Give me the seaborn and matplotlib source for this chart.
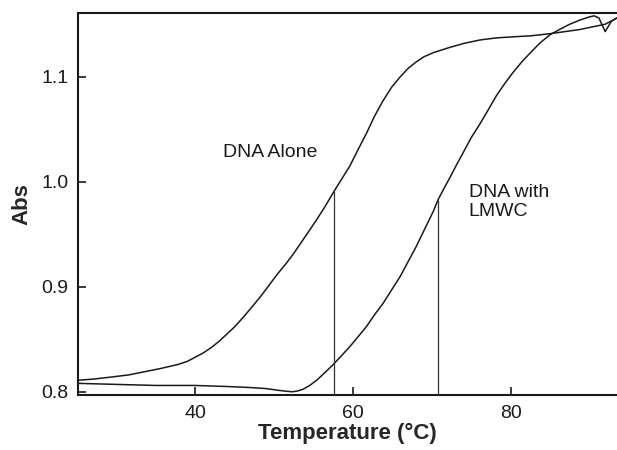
import pandas as pd
import seaborn as sns
import matplotlib.pyplot as plt

# -------------------------------------------------------------------
# Melting curves
# -------------------------------------------------------------------

temp_alone = [25.1, 27.0, 29.3, 31.5, 33.5, 35.5, 37.8, 39.0, 40.0, 41.0,
              42.0, 43.0, 44.0, 45.0, 46.2, 47.2, 48.3, 49.3, 50.4, 51.5,
              52.5, 53.5, 54.5, 55.4, 56.5, 57.6, 58.6, 59.6, 60.6, 61.7,
              62.7, 63.8, 64.9, 66.0, 67.0, 68.0, 69.0, 70.2, 72.3, 74.2,
              76.1, 78.2, 80.3, 82.6, 85.0, 88.8, 92.0, 93.5]
abs_alone = [0.811, 0.812, 0.814, 0.816, 0.819, 0.822, 0.826, 0.829, 0.833, 0.837,
             0.842, 0.848, 0.855, 0.862, 0.872, 0.881, 0.891, 0.901, 0.912, 0.922,
             0.932, 0.943, 0.954, 0.964, 0.977, 0.991, 1.003, 1.015, 1.030, 1.046,
             1.062, 1.077, 1.090, 1.100, 1.108, 1.114, 1.119, 1.123, 1.128, 1.132,
             1.135, 1.137, 1.138, 1.139, 1.141, 1.145, 1.150, 1.156]

temp_lmwc = [25.1, 30.0, 35.0, 39.9, 44.0, 47.0, 49.0, 50.4, 51.5, 52.3,
             53.0, 53.7, 54.5, 55.4, 56.4, 57.5, 58.5, 59.6, 60.6, 61.7,
             62.7, 63.8, 64.9, 66.0, 67.0, 68.0, 69.1, 70.2, 70.8, 71.5,
             72.3, 73.2, 74.0, 75.0, 76.1, 77.2, 78.2, 79.3, 80.3, 81.4,
             82.4, 83.7, 85.0, 86.2, 87.5, 88.8, 90.0, 90.6, 91.2, 92.0,
             92.8, 93.5]
abs_lmwc = [0.808, 0.807, 0.806, 0.806, 0.805, 0.804, 0.803, 0.8015, 0.8005, 0.800,
            0.8008, 0.8025, 0.806, 0.811, 0.818, 0.826, 0.834, 0.843, 0.852, 0.862,
            0.873, 0.884, 0.897, 0.910, 0.924, 0.938, 0.955, 0.972, 0.983, 0.993,
            1.004, 1.017, 1.028, 1.042, 1.055, 1.069, 1.082, 1.094, 1.104, 1.114,
            1.122, 1.132, 1.140, 1.145, 1.150, 1.154, 1.157, 1.158, 1.156, 1.143,
            1.153, 1.156]

# Tm markers (vertical drop lines)
tm_values = [57.6, 70.8]
tm_abs = [0.991, 0.983]

x_ticks = [40, 60, 80]
y_ticks = [0.8, 0.9, 1.0, 1.1]

df = pd.concat([
    pd.DataFrame({"temp": temp_alone, "abs": abs_alone, "sample": "alone"}),
    pd.DataFrame({"temp": temp_lmwc, "abs": abs_lmwc, "sample": "lmwc"}),
], ignore_index=True)

# -------------------------------------------------------------------
# Plot
# -------------------------------------------------------------------

sns.set_style("ticks")
plt.rcParams["font.family"] = ["Liberation Sans", "DejaVu Sans"]

fig = plt.figure(figsize=(6.17, 4.5), dpi=100)
ax = fig.add_axes([0.1264, 0.1222, 0.8736, 0.8496])

sns.lineplot(data=df, x="temp", y="abs", hue="sample", units="sample",
             estimator=None, sort=False, palette=["#1a1a1a", "#1a1a1a"],
             linewidth=1.1, legend=False, ax=ax)

ax.vlines(tm_values, 0.7969, tm_abs, color="#333333", linewidth=0.9)

ax.set_xlim(25.1, 93.5)
ax.set_ylim(0.7969, 1.161)
ax.set_xticks(x_ticks)
ax.set_yticks(y_ticks)
ax.set_yticklabels([f"{v:.1f}" for v in y_ticks])

ax.tick_params(direction="in", length=5.5, width=1.2, labelsize=14,
               colors="#1a1a1a")
ax.tick_params(axis="x", pad=7)
ax.tick_params(axis="y", pad=7)
for side in ["left", "bottom", "top"]:
    ax.spines[side].set_linewidth(1.5)
    ax.spines[side].set_color("#1a1a1a")
ax.spines["right"].set_visible(False)

ax.set_xlabel("Temperature (°C)", fontsize=16, fontweight="bold", labelpad=1)
ax.set_ylabel("Abs", fontsize=16, fontweight="bold", labelpad=6.5)

ax.text(43.5, 1.028, "DNA Alone", fontsize=14, va="center", ha="left", color="#1a1a1a")
ax.text(74.7, 0.981, "DNA with\nLMWC", fontsize=14, va="center", ha="left",
        linespacing=1.15, color="#1a1a1a")

plt.savefig("out.png", dpi=100)
plt.close()
